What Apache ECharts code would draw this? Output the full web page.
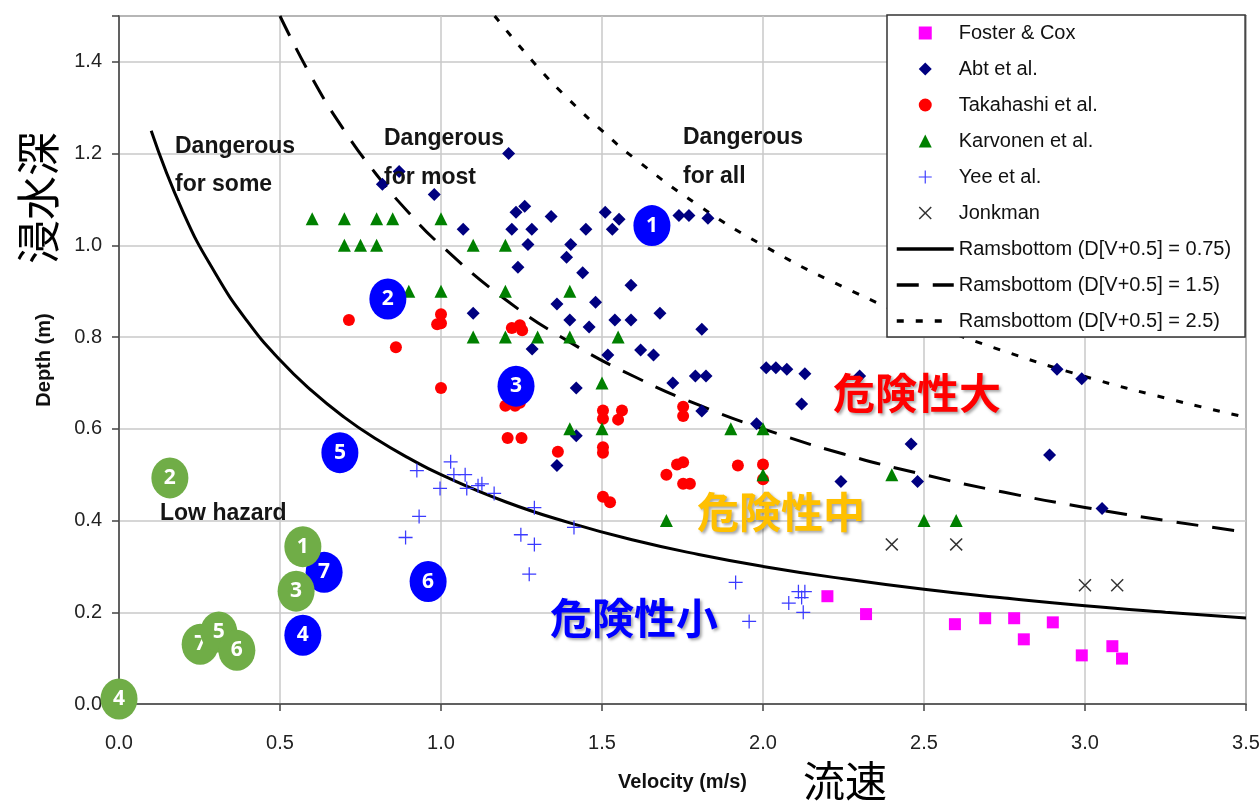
<!DOCTYPE html>
<html>
<head>
<meta charset="utf-8">
<title>Depth - Velocity hazard</title>
<script src="https://cdn.jsdelivr.net/npm/echarts@6/dist/echarts.min.js"></script>
<style>
    html, body { margin: 0; padding: 0; background: #fff; }
    #main { width: 1260px; height: 803px; }
</style>
</head>
<body>
<div id="main"></div>
<script>
// points: [velocity (m/s), depth (m)]
var fosterCox = [[2.20, 0.235], [2.32, 0.196], [2.596, 0.174], [2.69, 0.187], [2.78, 0.187],
    [2.81, 0.141], [2.90, 0.178], [2.99, 0.106], [3.085, 0.126], [3.115, 0.099]];
var abt = [[1.21, 1.2], [0.818, 1.133], [0.87, 1.161], [0.979, 1.111], [1.233, 1.072], [1.26, 1.085],
    [1.069, 1.035], [1.22, 1.035], [1.282, 1.035], [1.342, 1.063], [1.27, 1.002], [1.239, 0.952],
    [1.403, 1.002], [1.39, 0.974], [1.45, 1.035], [1.51, 1.072], [1.553, 1.057], [1.532, 1.035],
    [1.44, 0.94], [1.59, 0.913], [1.36, 0.872], [1.48, 0.876], [1.10, 0.852], [1.40, 0.837],
    [1.46, 0.822], [1.54, 0.837], [1.59, 0.837], [1.283, 0.774], [1.518, 0.761], [1.62, 0.772],
    [1.66, 0.761], [1.42, 0.689], [1.42, 0.585], [1.36, 0.52], [1.739, 1.065], [1.77, 1.065],
    [1.829, 1.059], [1.68, 0.852], [1.81, 0.817], [1.72, 0.70], [1.79, 0.715], [1.823, 0.715],
    [1.81, 0.639], [1.98, 0.611], [2.01, 0.733], [2.04, 0.733], [2.074, 0.73], [2.13, 0.72],
    [2.12, 0.654], [2.30, 0.715], [2.46, 0.567], [2.913, 0.73], [2.99, 0.709], [2.89, 0.543],
    [2.242, 0.485], [2.48, 0.485], [3.053, 0.426]];
var takahashi = [[0.714, 0.837], [0.86, 0.778], [1.0, 0.85], [0.988, 0.828], [1.0, 0.83], [1.0, 0.689],
    [1.22, 0.82], [1.245, 0.826], [1.252, 0.815], [1.20, 0.65], [1.23, 0.65], [1.245, 0.657],
    [1.207, 0.58], [1.25, 0.58], [1.363, 0.55], [1.503, 0.64], [1.503, 0.622], [1.562, 0.64],
    [1.55, 0.62], [1.503, 0.56], [1.503, 0.548], [1.503, 0.452], [1.525, 0.44], [1.752, 0.648],
    [1.752, 0.628], [1.70, 0.50], [1.733, 0.522], [1.752, 0.527], [1.752, 0.48], [1.773, 0.48],
    [1.922, 0.52], [2.0, 0.522], [2.0, 0.49]];
var karvonen = [[0.60, 1.058], [0.70, 1.058], [0.80, 1.058], [0.85, 1.058], [1.0, 1.058],
    [0.70, 1.0], [0.75, 1.0], [0.80, 1.0], [1.10, 1.0], [1.20, 1.0], [0.90, 0.9], [1.0, 0.9],
    [1.20, 0.9], [1.40, 0.9], [1.10, 0.8], [1.20, 0.8], [1.30, 0.8], [1.40, 0.8], [1.55, 0.8],
    [1.50, 0.7], [1.40, 0.6], [1.50, 0.6], [1.90, 0.6], [2.0, 0.6], [2.0, 0.5], [1.70, 0.4],
    [2.40, 0.5], [2.50, 0.4], [2.60, 0.4]];
var yee = [[0.925, 0.509], [1.03, 0.528], [0.997, 0.47], [1.04, 0.50], [1.075, 0.50], [1.08, 0.47],
    [1.115, 0.476], [1.127, 0.48], [1.165, 0.459], [0.932, 0.409], [0.89, 0.363], [1.29, 0.428],
    [1.413, 0.385], [1.248, 0.369], [1.29, 0.348], [1.274, 0.283], [1.915, 0.265], [1.957, 0.18],
    [2.08, 0.22], [2.11, 0.245], [2.13, 0.245], [2.12, 0.232], [2.125, 0.2]];
var jonkman = [[2.40, 0.348], [2.60, 0.348], [3.0, 0.259], [3.10, 0.259]];

// Ramsbottom curves, D(V+0.5) = 0.75 / 1.5 / 2.5
var rams075 = [[0.1, 1.25], [0.2, 1.071], [0.3, 0.938], [0.4, 0.833], [0.5, 0.75], [0.6, 0.682],
    [0.7, 0.625], [0.8, 0.577], [0.9, 0.536], [1.0, 0.5], [1.2, 0.441], [1.4, 0.395], [1.6, 0.357],
    [1.8, 0.326], [2.0, 0.3], [2.25, 0.273], [2.5, 0.25], [2.75, 0.231], [3.0, 0.214],
    [3.25, 0.2], [3.5, 0.1875]];
var rams15 = [[0.5, 1.5], [0.6, 1.364], [0.7, 1.25], [0.8, 1.154], [0.9, 1.071], [1.0, 1.0],
    [1.2, 0.882], [1.4, 0.789], [1.6, 0.714], [1.8, 0.652], [2.0, 0.6], [2.25, 0.545], [2.5, 0.5],
    [2.75, 0.4615], [3.0, 0.4286], [3.25, 0.4], [3.5, 0.375]];
var rams25 = [[1.1667, 1.5], [1.3, 1.389], [1.4, 1.316], [1.5, 1.25], [1.6, 1.19], [1.8, 1.087],
    [2.0, 1.0], [2.25, 0.909], [2.5, 0.833], [2.75, 0.769], [3.0, 0.714], [3.25, 0.667],
    [3.5, 0.625]];

// numbered markers: [velocity, depth, number]
var blueMarks = [[1.655, 1.043, 1], [0.835, 0.883, 2], [1.233, 0.693, 3], [0.571, 0.150, 4],
    [0.686, 0.548, 5], [0.96, 0.267, 6], [0.637, 0.287, 7]];
var greenBack = [[0.252, 0.130, 7]];
var greenMarks = [[0.571, 0.343, 1], [0.158, 0.493, 2], [0.55, 0.246, 3], [0.0, 0.011, 4],
    [0.31, 0.157, 5], [0.366, 0.117, 6]];

var seriesNames = ['Foster & Cox', 'Abt et al.', 'Takahashi et al.', 'Karvonen et al.', 'Yee et al.',
    'Jonkman', 'Ramsbottom (D[V+0.5] = 0.75)', 'Ramsbottom (D[V+0.5] = 1.5)',
    'Ramsbottom (D[V+0.5] = 2.5)'];

var FONT = '"Liberation Sans", Arial, sans-serif';
var CJK = '"Noto Sans CJK JP", sans-serif';
// path symbols keep their aspect in the legend, built-in ones get stretched
var SQUARE = 'path://M0,0H10V10H0Z';
var DIAMOND = 'path://M5,0L10,5L5,10L0,5Z';
var TRIANGLE = 'path://M5,0L10,10H0Z';
var PLUS = 'path://M4.55,0H5.45V4.55H10V5.45H5.45V10H4.55V5.45H0V4.55H4.55Z';
var CROSS = 'path://M0,0.8L0.8,0L5,4.2L9.2,0L10,0.8L5.8,5L10,9.2L9.2,10L5,5.8L0.8,10L0,9.2L4.2,5Z';

var chart = echarts.init(document.getElementById('main'), null, {renderer: 'canvas'});

function curve(name, data, dash) {
    return {
        name: name, type: 'line', data: data, smooth: true, symbol: 'none', z: 2,
        itemStyle: {color: 'rgba(0,0,0,0)', borderWidth: 0},
        lineStyle: {color: '#000', width: 3, type: dash}
    };
}

function dots(name, data, symbol, size, color) {
    return {
        name: name, type: 'scatter', data: data, symbol: symbol, symbolSize: size, z: 3,
        itemStyle: {color: color, opacity: 1}
    };
}

function numbered(data, color, z) {
    return {
        type: 'scatter', data: data, symbol: 'circle', symbolSize: [37, 41], z: z, clip: false,
        itemStyle: {color: color, opacity: 1},
        label: {
            show: true, position: 'inside', color: '#fff', fontSize: 21, fontWeight: 'bold',
            fontFamily: '"Open Sans", sans-serif',
            formatter: function (p) { return p.value[2]; }
        }
    };
}

function note(text, x, y) {
    return {
        type: 'text', x: x, y: y, z: 50,
        style: {text: text, fontSize: 23, fontWeight: 'bold', fontFamily: FONT, fill: '#151515',
            verticalAlign: 'middle'}
    };
}

function bigNote(text, x, y, color) {
    return {
        type: 'text', x: x, y: y, z: 50,
        style: {text: text, fontSize: 42, fontWeight: 'bold', fontFamily: CJK, fill: color,
            verticalAlign: 'middle', textShadowColor: 'rgba(0,0,0,0.35)', textShadowBlur: 3,
            textShadowOffsetX: 2, textShadowOffsetY: 2}
    };
}

var option = {
    animation: false,
    backgroundColor: '#fff',
    grid: {
        left: 119, top: 16, right: 14, bottom: 99, show: true,
        borderColor: '#555', borderWidth: 1.5, outerBoundsMode: 'none'
    },
    xAxis: {
        type: 'value', min: 0, max: 3.5, interval: 0.5,
        name: 'Velocity (m/s)', nameLocation: 'middle', nameGap: 68,
        nameTextStyle: {fontSize: 20, fontWeight: 'bold', color: '#111', fontFamily: FONT},
        axisLine: {show: true, onZero: false, lineStyle: {color: '#444', width: 1.5}},
        axisTick: {show: true, length: 7, lineStyle: {color: '#444', width: 1.5}},
        axisLabel: {fontSize: 20, color: '#222', margin: 29, fontFamily: FONT,
            formatter: function (v) { return v.toFixed(1); }},
        splitLine: {show: true, lineStyle: {color: '#c8c8c8', width: 1.5}}
    },
    yAxis: {
        type: 'value', min: 0, max: 1.5, interval: 0.2,
        name: 'Depth (m)', nameLocation: 'middle', nameGap: 65,
        nameTextStyle: {fontSize: 20, fontWeight: 'bold', color: '#111', fontFamily: FONT},
        axisLine: {show: true, onZero: false, lineStyle: {color: '#444', width: 1.5}},
        axisTick: {show: true, length: 7, lineStyle: {color: '#444', width: 1.5}},
        axisLabel: {fontSize: 20, color: '#222', margin: 17, fontFamily: FONT,
            formatter: function (v) { return v > 1.45 ? '' : v.toFixed(1); }},
        splitLine: {show: true, lineStyle: {color: '#c8c8c8', width: 1.5}}
    },
    legend: {
        orient: 'vertical', left: 887, top: 15, z: 20,
        itemWidth: 57, itemHeight: 13, itemGap: 16,
        padding: [8, 14, 6, 8],
        backgroundColor: '#fff', borderColor: '#333', borderWidth: 1.5,
        selectedMode: false, symbolKeepAspect: true,
        lineStyle: {width: 3.5},
        textStyle: {fontSize: 20, color: '#111', fontFamily: FONT},
        data: seriesNames
    },
    series: [
        curve(seriesNames[6], rams075, 'solid'),
        curve(seriesNames[7], rams15, [22, 14]),
        curve(seriesNames[8], rams25, [7, 12]),
        dots(seriesNames[0], fosterCox, SQUARE, 12, '#ff00ff'),
        dots(seriesNames[1], abt, DIAMOND, 13, '#000080'),
        dots(seriesNames[2], takahashi, 'circle', 12, '#ff0000'),
        dots(seriesNames[3], karvonen, TRIANGLE, 13, '#008000'),
        dots(seriesNames[4], yee, PLUS, 14, '#3b3bff'),
        dots(seriesNames[5], jonkman, CROSS, 13, '#333'),
        numbered(blueMarks, '#0000ff', 5),
        numbered(greenBack, '#70ad47', 6),
        numbered(greenMarks, '#70ad47', 7)
    ],
    graphic: [
        note('Dangerous', 175, 147),
        note('for some', 175, 185),
        note('Dangerous', 384, 139),
        note('for most', 384, 178),
        note('Dangerous', 683, 138),
        note('for all', 683, 177),
        note('Low hazard', 160, 514),
        bigNote('危険性大', 833, 393, '#ff0000'),
        bigNote('危険性中', 697, 512, '#ffc000'),
        bigNote('危険性小', 550, 618, '#0000ff'),
        {
            type: 'text', x: 845, y: 781, z: 50,
            style: {text: '流速', fontSize: 42, fontFamily: CJK, fill: '#000',
                align: 'center', verticalAlign: 'middle'}
        },
        {
            type: 'text', x: 38, y: 198, rotation: Math.PI / 2, z: 50,
            style: {text: '浸水深', fontSize: 44, fontFamily: CJK, fill: '#000',
                align: 'center', verticalAlign: 'middle'}
        }
    ]
};

chart.setOption(option);
</script>
</body>
</html>
